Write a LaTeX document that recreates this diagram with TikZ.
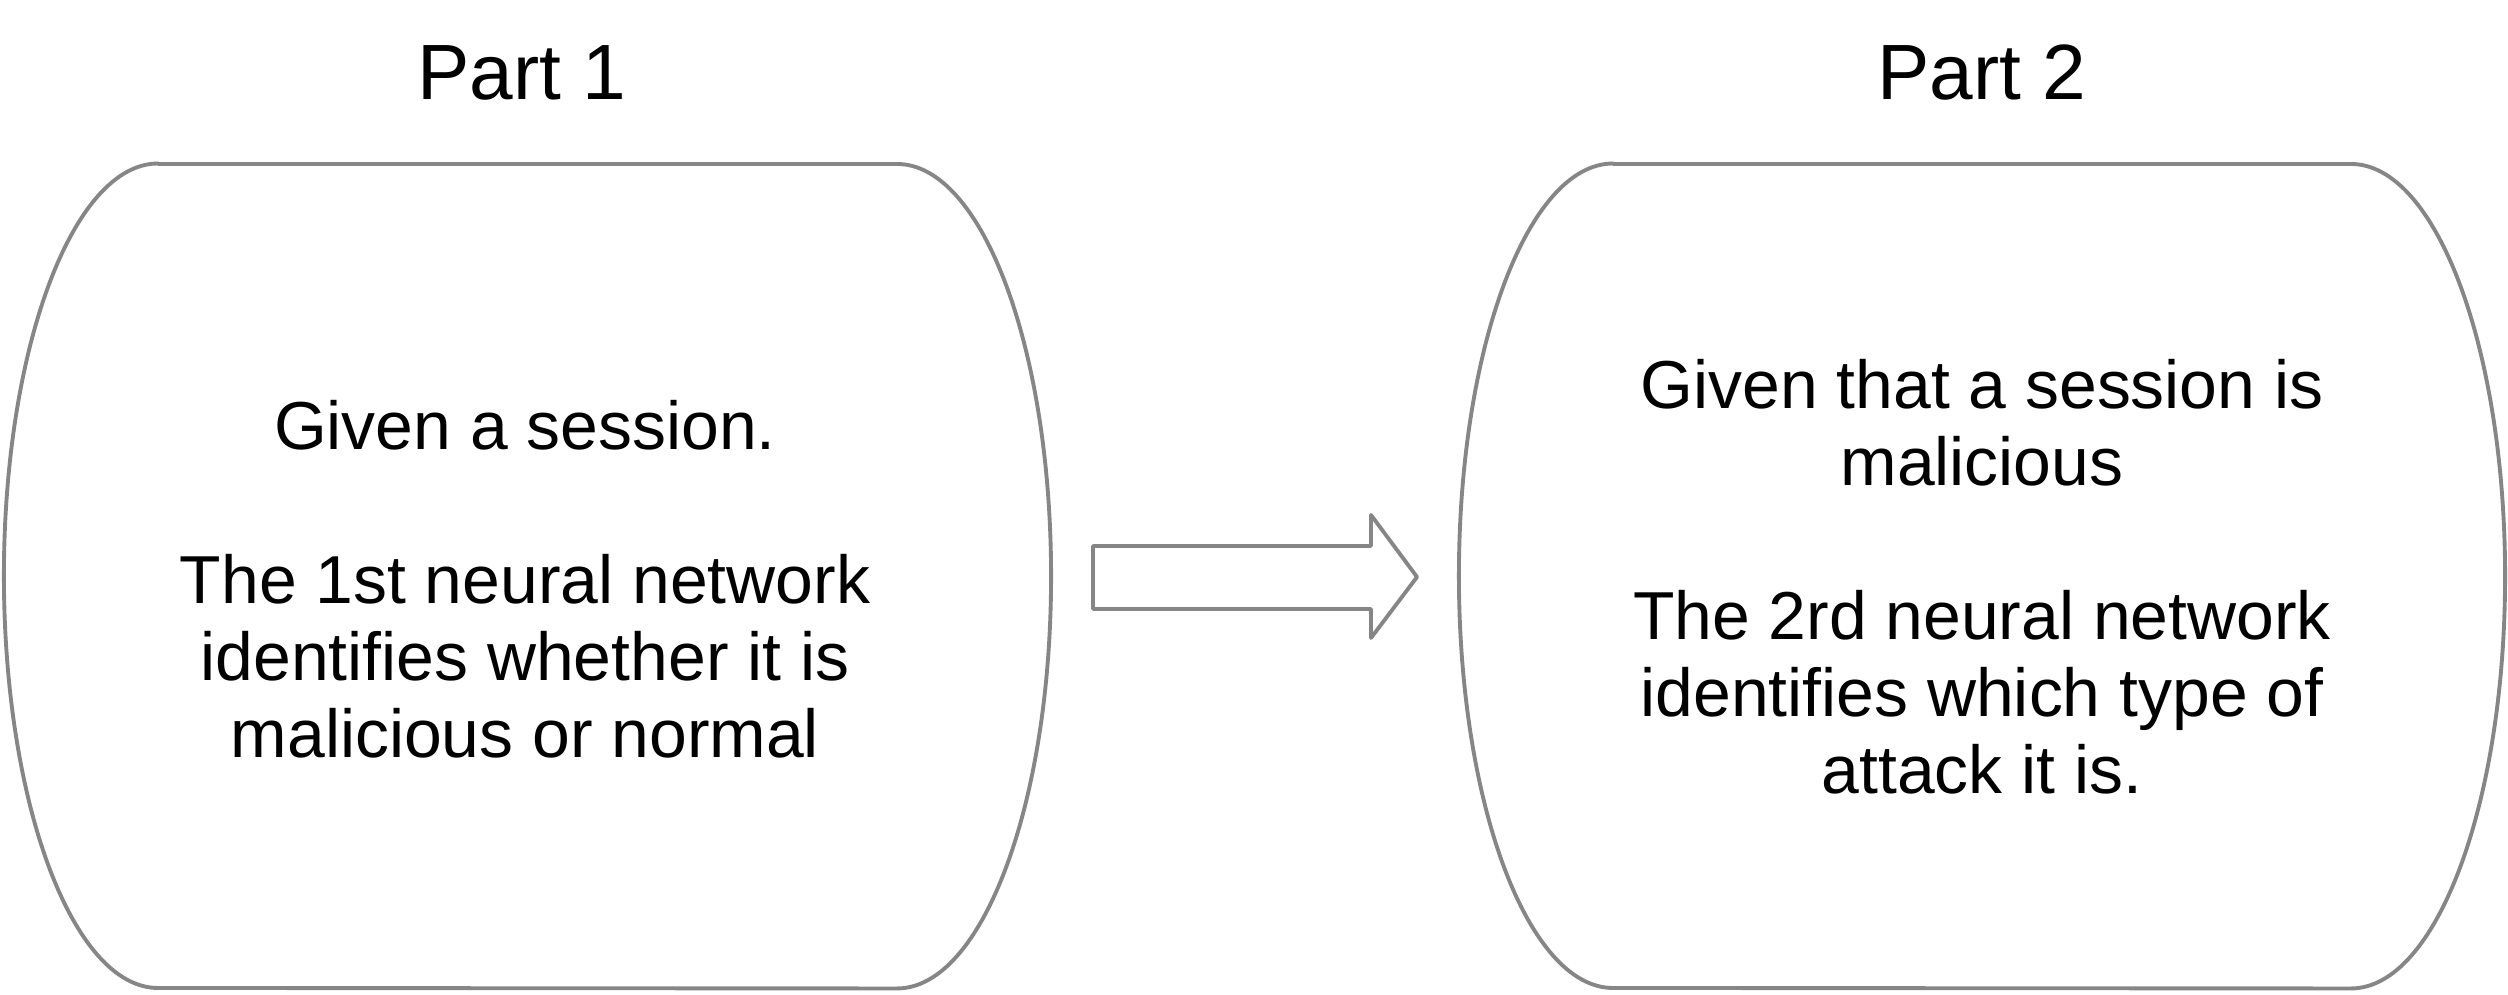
\documentclass[tikz,border=0pt]{standalone}
\usepackage{fontspec}
\setmainfont{Liberation Sans}
\definecolor{linegray}{RGB}{134,134,134}
\begin{document}
\begin{tikzpicture}[x=0.01cm,y=0.01cm,
  outline/.style={draw=linegray,line width=1.1pt,line join=round},
  bodytext/.style={align=center,font=\fontsize{19.3}{21.9}\selectfont,inner sep=0pt},
  titletext/.style={font=\fontsize{22.3}{26}\selectfont,inner sep=0pt,anchor=base}]
\useasboundingbox (0,0) rectangle (2508,995);
% left shape
\draw[outline] (158,831) -- (897,831)
  arc[start angle=90,end angle=-90,x radius=1.54cm,y radius=4.12cm]
  -- (158,7)
  arc[start angle=270,end angle=90,x radius=1.54cm,y radius=4.12cm] -- cycle;
% right shape
\draw[outline] (1613,831) -- (2351,831)
  arc[start angle=90,end angle=-90,x radius=1.54cm,y radius=4.12cm]
  -- (1613,7)
  arc[start angle=270,end angle=90,x radius=1.54cm,y radius=4.12cm] -- cycle;
% block arrow
\draw[outline] (1093,449) -- (1371,449) -- (1371,480) -- (1417,418)
  -- (1371,357) -- (1371,386) -- (1093,386) -- cycle;
% titles
\node[titletext] (t1) at (522,895) {Part 1};
\node[titletext] (t2) at (1982,895) {Part 2};
% texts
\node[bodytext] (b1) at (525,416) {Given a session.\\[0.77cm]The 1st neural network\\identifies whether it is\\malicious or normal};
\node[bodytext] (b2) at (1982,418) {Given that a session is\\malicious\\[0.77cm]The 2rd neural network\\identifies which type of\\attack it is.};
\end{tikzpicture}
\end{document}
